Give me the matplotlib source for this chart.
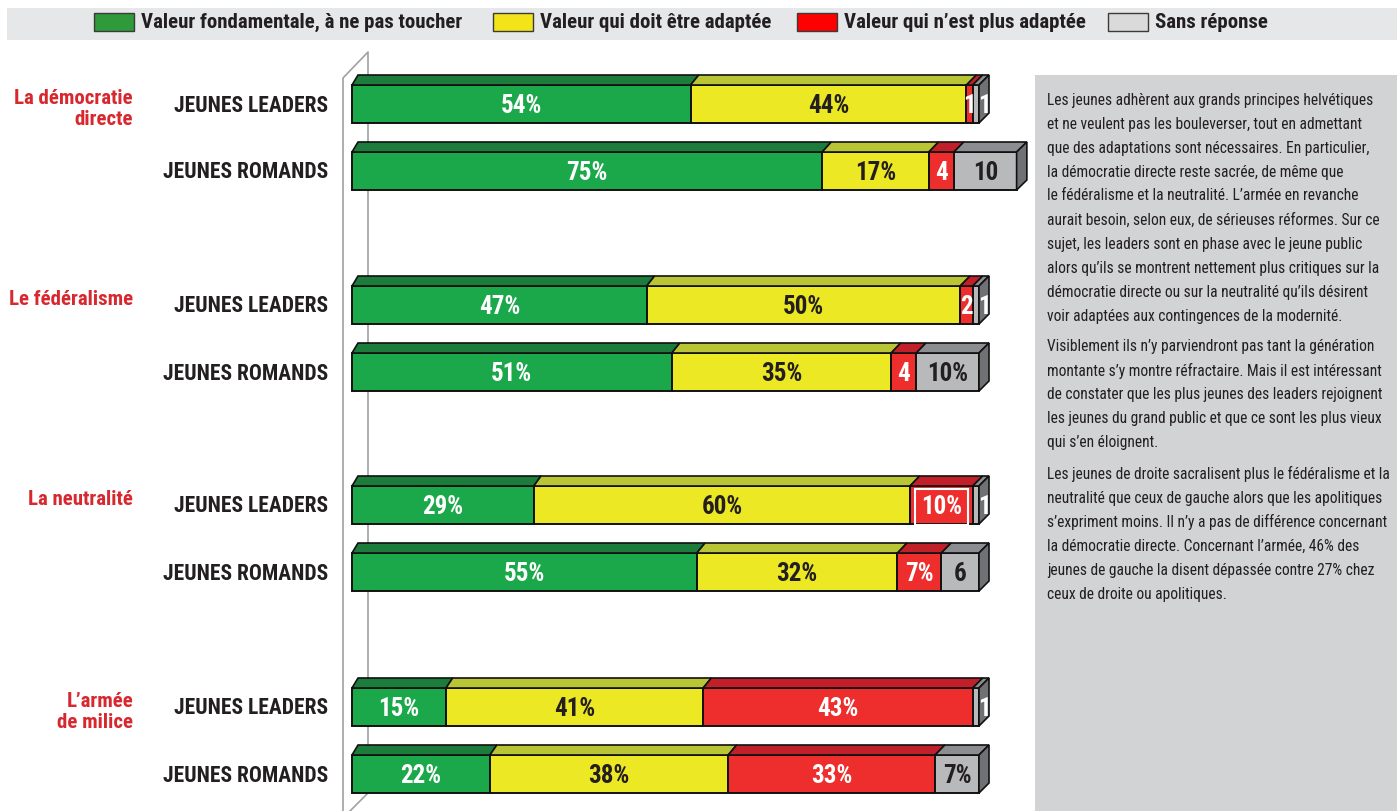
import matplotlib
matplotlib.use("Agg")
import matplotlib.pyplot as plt
from matplotlib import font_manager as fm
from matplotlib.patches import Rectangle, Polygon

# ---------------------------------------------------------------- data
legend_labels = ["Valeur fondamentale, à ne pas toucher",
                 "Valeur qui doit être adaptée",
                 "Valeur qui n\u2019est plus adaptée",
                 "Sans réponse"]
themes = [["La démocratie", "directe"],
          ["Le fédéralisme"],
          ["La neutralité"],
          ["L\u2019armée", "de milice"]]
groups = ["JEUNES LEADERS", "JEUNES ROMANDS"]

# values per theme, per group: [fondamentale, à adapter, plus adaptée, sans réponse]
democratie = [[54, 44, 1, 1], [75, 17, 4, 10]]
federalisme = [[47, 50, 2, 1], [51, 35, 4, 10]]
neutralite = [[29, 60, 10, 1], [55, 32, 7, 6]]
armee = [[15, 41, 43, 1], [22, 38, 33, 7]]
values = [democratie, federalisme, neutralite, armee]

# printed labels (as they appear on each segment)
labels_democratie = [["54%", "44%", "1", "1"], ["75%", "17%", "4", "10"]]
labels_federalisme = [["47%", "50%", "2", "1"], ["51%", "35%", "4", "10%"]]
labels_neutralite = [["29%", "60%", "10%", "1"], ["55%", "32%", "7%", "6"]]
labels_armee = [["15%", "41%", "43%", "1"], ["22%", "38%", "33%", "7%"]]
seg_labels = [labels_democratie, labels_federalisme, labels_neutralite, labels_armee]

body_paragraphs = [
    ["Les jeunes adhèrent aux grands principes helvétiques",
     "et ne veulent pas les bouleverser, tout en admettant",
     "que des adaptations sont nécessaires. En particulier,",
     "la démocratie directe reste sacrée, de même que",
     "le fédéralisme et la neutralité. L\u2019armée en revanche",
     "aurait besoin, selon eux, de sérieuses réformes. Sur ce",
     "sujet, les leaders sont en phase avec le jeune public",
     "alors qu\u2019ils se montrent nettement plus critiques sur la",
     "démocratie directe ou sur la neutralité qu\u2019ils désirent",
     "voir adaptées aux contingences de la modernité."],
    ["Visiblement ils n\u2019y parviendront pas tant la génération",
     "montante s\u2019y montre réfractaire. Mais il est intéressant",
     "de constater que les plus jeunes des leaders rejoignent",
     "les jeunes du grand public et que ce sont les plus vieux",
     "qui s\u2019en éloignent."],
    ["Les jeunes de droite sacralisent plus le fédéralisme et la",
     "neutralité que ceux de gauche alors que les apolitiques",
     "s\u2019expriment moins. Il n\u2019y a pas de différence concernant",
     "la démocratie directe. Concernant l\u2019armée, 46% des",
     "jeunes de gauche la disent dépassée contre 27% chez",
     "ceux de droite ou apolitiques."],
]

# ---------------------------------------------------------------- styles
front_colors = ["#1aa84b", "#ece824", "#ee2d2d", "#b8b9bb"]
top_colors = ["#1b7c3c", "#b9c535", "#c1202a", "#8c8d90"]
side_colors = ["#16693a", "#9ea72a", "#9e1b22", "#707174"]
legend_colors = ["#2e9a3a", "#f3e41a", "#ff0000", "#dadada"]
text_colors = ["white", "#231f20", "white", "#231f20"]
DARK = "#231f20"
RED = "#d7282f"


def pick_font(bold):
    want = 700 if bold else 400
    order = [("Liberation Sans Narrow", None), ("Roboto Condensed", None),
             ("Noto Sans", "condensed"), ("DejaVu Sans", "condensed"),
             ("Noto Sans", "semi-condensed"), ("Roboto", None)]

    def wval(f):
        w = f.weight
        if isinstance(w, str):
            return fm.weight_dict.get(w, 400)
        return w

    for fam, stretch in order:
        hits = [f for f in fm.fontManager.ttflist
                if f.name == fam and f.style == "normal"
                and (stretch is None or f.stretch == stretch)]
        if hits:
            best = min(hits, key=lambda f: abs(wval(f) - want))
            return best.fname
    return None


def fprop(bold, size):
    path = pick_font(bold)
    if path:
        p = fm.FontProperties(fname=path)
    else:
        p = fm.FontProperties(family="DejaVu Sans",
                              weight="bold" if bold else "normal")
    p.set_size(size)
    return p


F_BAR = fprop(True, 18)
F_GROUP = fprop(True, 15.5)
F_THEME = fprop(True, 15)
F_LEG = fprop(True, 15)
F_BODY = fprop(False, 11.2)

# ---------------------------------------------------------------- layout
W, H = 1397, 811
fig = plt.figure(figsize=(W / 100, H / 100), dpi=100)
fig.patch.set_facecolor("white")

bg = fig.add_axes([0, 0, 1, 1])
bg.set_xlim(0, W)
bg.set_ylim(H, 0)
bg.axis("off")

X0, X100 = 352, 979          # pixel extent of 0..100 %
PX = (X100 - X0) / 100.0     # pixels per percent
ax = fig.add_axes([X0 / W, 0, (X100 - X0) / W, 1])
ax.set_xlim(0, 100)
ax.set_ylim(H, 0)
ax.axis("off")

group_y = [104, 305, 505, 707]   # centre of first bar of each block
row_gap = 67
bar_h = 38
depth_y = 10


def depth_x(v):
    # receding offset grows slightly toward the right (in % units)
    return (6 + 4 * v / 100.0) / PX


# legend band
bg.add_patch(Rectangle((7, 8), W - 7, 32, fc="#e6e7e8", ec="none"))
leg_x = [94, 493, 797, 1108]
for lx, col, lab in zip(leg_x, legend_colors, legend_labels):
    bg.add_patch(Rectangle((lx, 13), 40, 18, fc=col, ec="#3a3a3a", lw=1))
    bg.text(lx + 47, 22.5, lab, fontproperties=F_LEG, color=DARK,
            va="center", ha="left")

# side wall (thin grey outline on the left)
wall = "#9fa1a4"
bg.plot([343, 343, 368, 368], [H + 5, 78, 52, 793], color=wall, lw=1.2)
bg.plot([368, 343], [793, 818], color=wall, lw=1.2, clip_on=False)

# text box on the right
bg.add_patch(Rectangle((1035, 75), W - 1035, H - 75, fc="#d1d3d4", ec="none"))
line_pitch = 24
para_gap = 7
ty = 100
for para in body_paragraphs:
    for line in para:
        bg.text(1047, ty, line, fontproperties=F_BODY, color=DARK,
                ha="left", va="center")
        ty += line_pitch
    ty += para_gap

# theme and group labels
for gi, theme in enumerate(themes):
    for li, line in enumerate(theme):
        bg.text(133, group_y[gi] + li * 21, line, fontproperties=F_THEME,
                color=RED, ha="right", va="baseline")
    for ri, g in enumerate(groups):
        bg.text(328, group_y[gi] + ri * row_gap + 7.5, g,
                fontproperties=F_GROUP, color=DARK, ha="right", va="baseline")

# 3-D stacked bars
boxed = {(2, 0, 2)}
for gi in range(len(values)):
    for ri in range(len(groups)):
        yc = group_y[gi] + ri * row_gap
        ytop = yc - bar_h / 2
        ybot = yc + bar_h / 2
        vals = values[gi][ri]
        labs = seg_labels[gi][ri]
        left = 0
        for si, (v, lab) in enumerate(zip(vals, labs)):
            right = left + v
            last = si == len(vals) - 1
            ax.add_patch(Rectangle((left, ytop), v, bar_h, fc=front_colors[si],
                                   ec="#111111", lw=1.4, clip_on=False, zorder=2))
            ax.add_patch(Polygon([(left, ytop), (right, ytop),
                                  (right + depth_x(right), ytop - depth_y),
                                  (left + depth_x(left), ytop - depth_y)],
                                 closed=True, fc=top_colors[si], ec="#111111",
                                 lw=1.2, clip_on=False, zorder=2))
            if last:
                dxr = depth_x(right)
                ax.add_patch(Polygon([(right, ytop), (right + dxr, ytop - depth_y),
                                      (right + dxr, ybot - depth_y), (right, ybot)],
                                     closed=True, fc=side_colors[si], ec="#111111",
                                     lw=1.2, clip_on=False, zorder=2))
            small = v <= 2
            color = "white" if small else text_colors[si]
            lx = (left + right) / 2
            if small and last:
                # a sliver too thin for text: label sits on the end face
                lx = right + depth_x(right) * 0.55
            kw = {}
            if (gi, ri, si) in boxed:
                kw["bbox"] = dict(boxstyle="square,pad=0.25", fc="none",
                                  ec="white", lw=1.5)
            ax.text(lx, yc + 9, lab, fontproperties=F_BAR, color=color,
                    ha="center", va="baseline", zorder=3, clip_on=False, **kw)
            left = right

fig.savefig("out.png", dpi=100, facecolor="white")
